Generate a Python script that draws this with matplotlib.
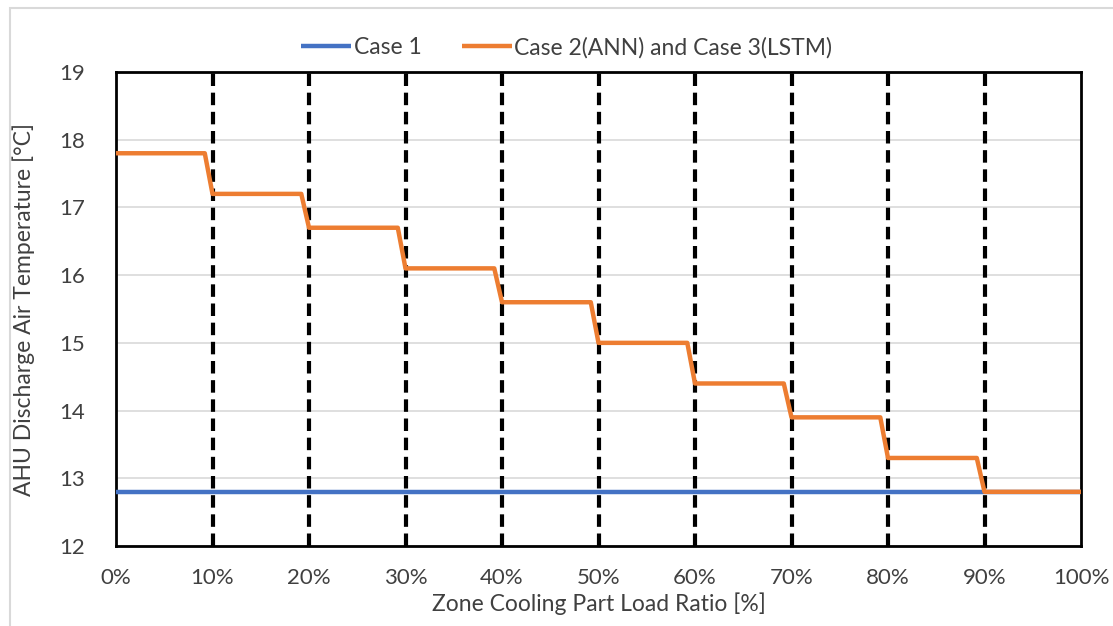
import matplotlib.pyplot as plt
from matplotlib.patches import Rectangle

plt.rcParams['font.family'] = ['Lato', 'DejaVu Sans']

# part load ratio [%] where each step starts falling and where it settles
step_start = [9.2, 19.2, 29.2, 39.2, 49.2, 59.2, 69.2, 79.2, 89.2]
step_end = [10, 20, 30, 40, 50, 60, 70, 80, 90]
# discharge air temperature level in each 10% band [°C]
levels = [17.8, 17.2, 16.7, 16.1, 15.6, 15.0, 14.4, 13.9, 13.3, 12.8]
case1_temp = 12.8
load_ticks = [0, 10, 20, 30, 40, 50, 60, 70, 80, 90, 100]
temp_ticks = [12, 13, 14, 15, 16, 17, 18, 19]

# build the stepped trace for cases 2 and 3
xs = [0]
ys = [levels[0]]
for i in range(len(step_start)):
    xs += [step_start[i], step_end[i]]
    ys += [levels[i], levels[i + 1]]
xs.append(100)
ys.append(levels[-1])

fig = plt.figure(figsize=(11.13, 6.26), dpi=100)
ax = fig.add_axes([116 / 1113, 1 - 546 / 626, 965 / 1113, 474 / 626])

# outer chart border
fig.patches.append(Rectangle((10 / 1113, -0.1), 1.2, 1 - 8 / 626 + 0.1,
                             transform=fig.transFigure, fill=False,
                             edgecolor='#d9d9d9', linewidth=1.5))

for x in step_end:
    ax.axvline(x, color='black', linewidth=3, linestyle=(0, (3, 1.6)), zorder=2)

ax.plot([0, 100], [case1_temp, case1_temp], color='#4472C4', linewidth=3.2,
        label='Case 1', zorder=3, solid_capstyle='butt')
ax.plot(xs, ys, color='#ED7D31', linewidth=3.2,
        label='Case 2(ANN) and Case 3(LSTM)', zorder=4, solid_capstyle='butt')

ax.set_xlim(0, 100)
ax.set_ylim(12, 19)
ax.set_xticks(load_ticks)
ax.set_xticklabels([f'{t}%' for t in load_ticks])
ax.set_yticks(temp_ticks)
ax.yaxis.grid(True, color='#d9d9d9', linewidth=1.2)
ax.set_axisbelow(True)
ax.tick_params(length=0, labelsize=16, colors='#404040')
ax.tick_params(axis='x', pad=16)
ax.tick_params(axis='y', pad=22)
for s in ax.spines.values():
    s.set_linewidth(2)
    s.set_color('black')

ax.set_xlabel('Zone Cooling Part Load Ratio [%]', fontsize=16.5, color='#404040', labelpad=3)
ax.set_ylabel('AHU Discharge Air Temperature [°C]', fontsize=16.5, color='#404040', labelpad=18)

ax.legend(loc='lower center', bbox_to_anchor=(0.467, 1.0), ncol=2, frameon=False,
          fontsize=16.5, handlelength=2.2, handletextpad=0.1, columnspacing=1.75,
          labelcolor='#404040', borderaxespad=0.2)

fig.savefig('out.png', dpi=100, facecolor='white')
